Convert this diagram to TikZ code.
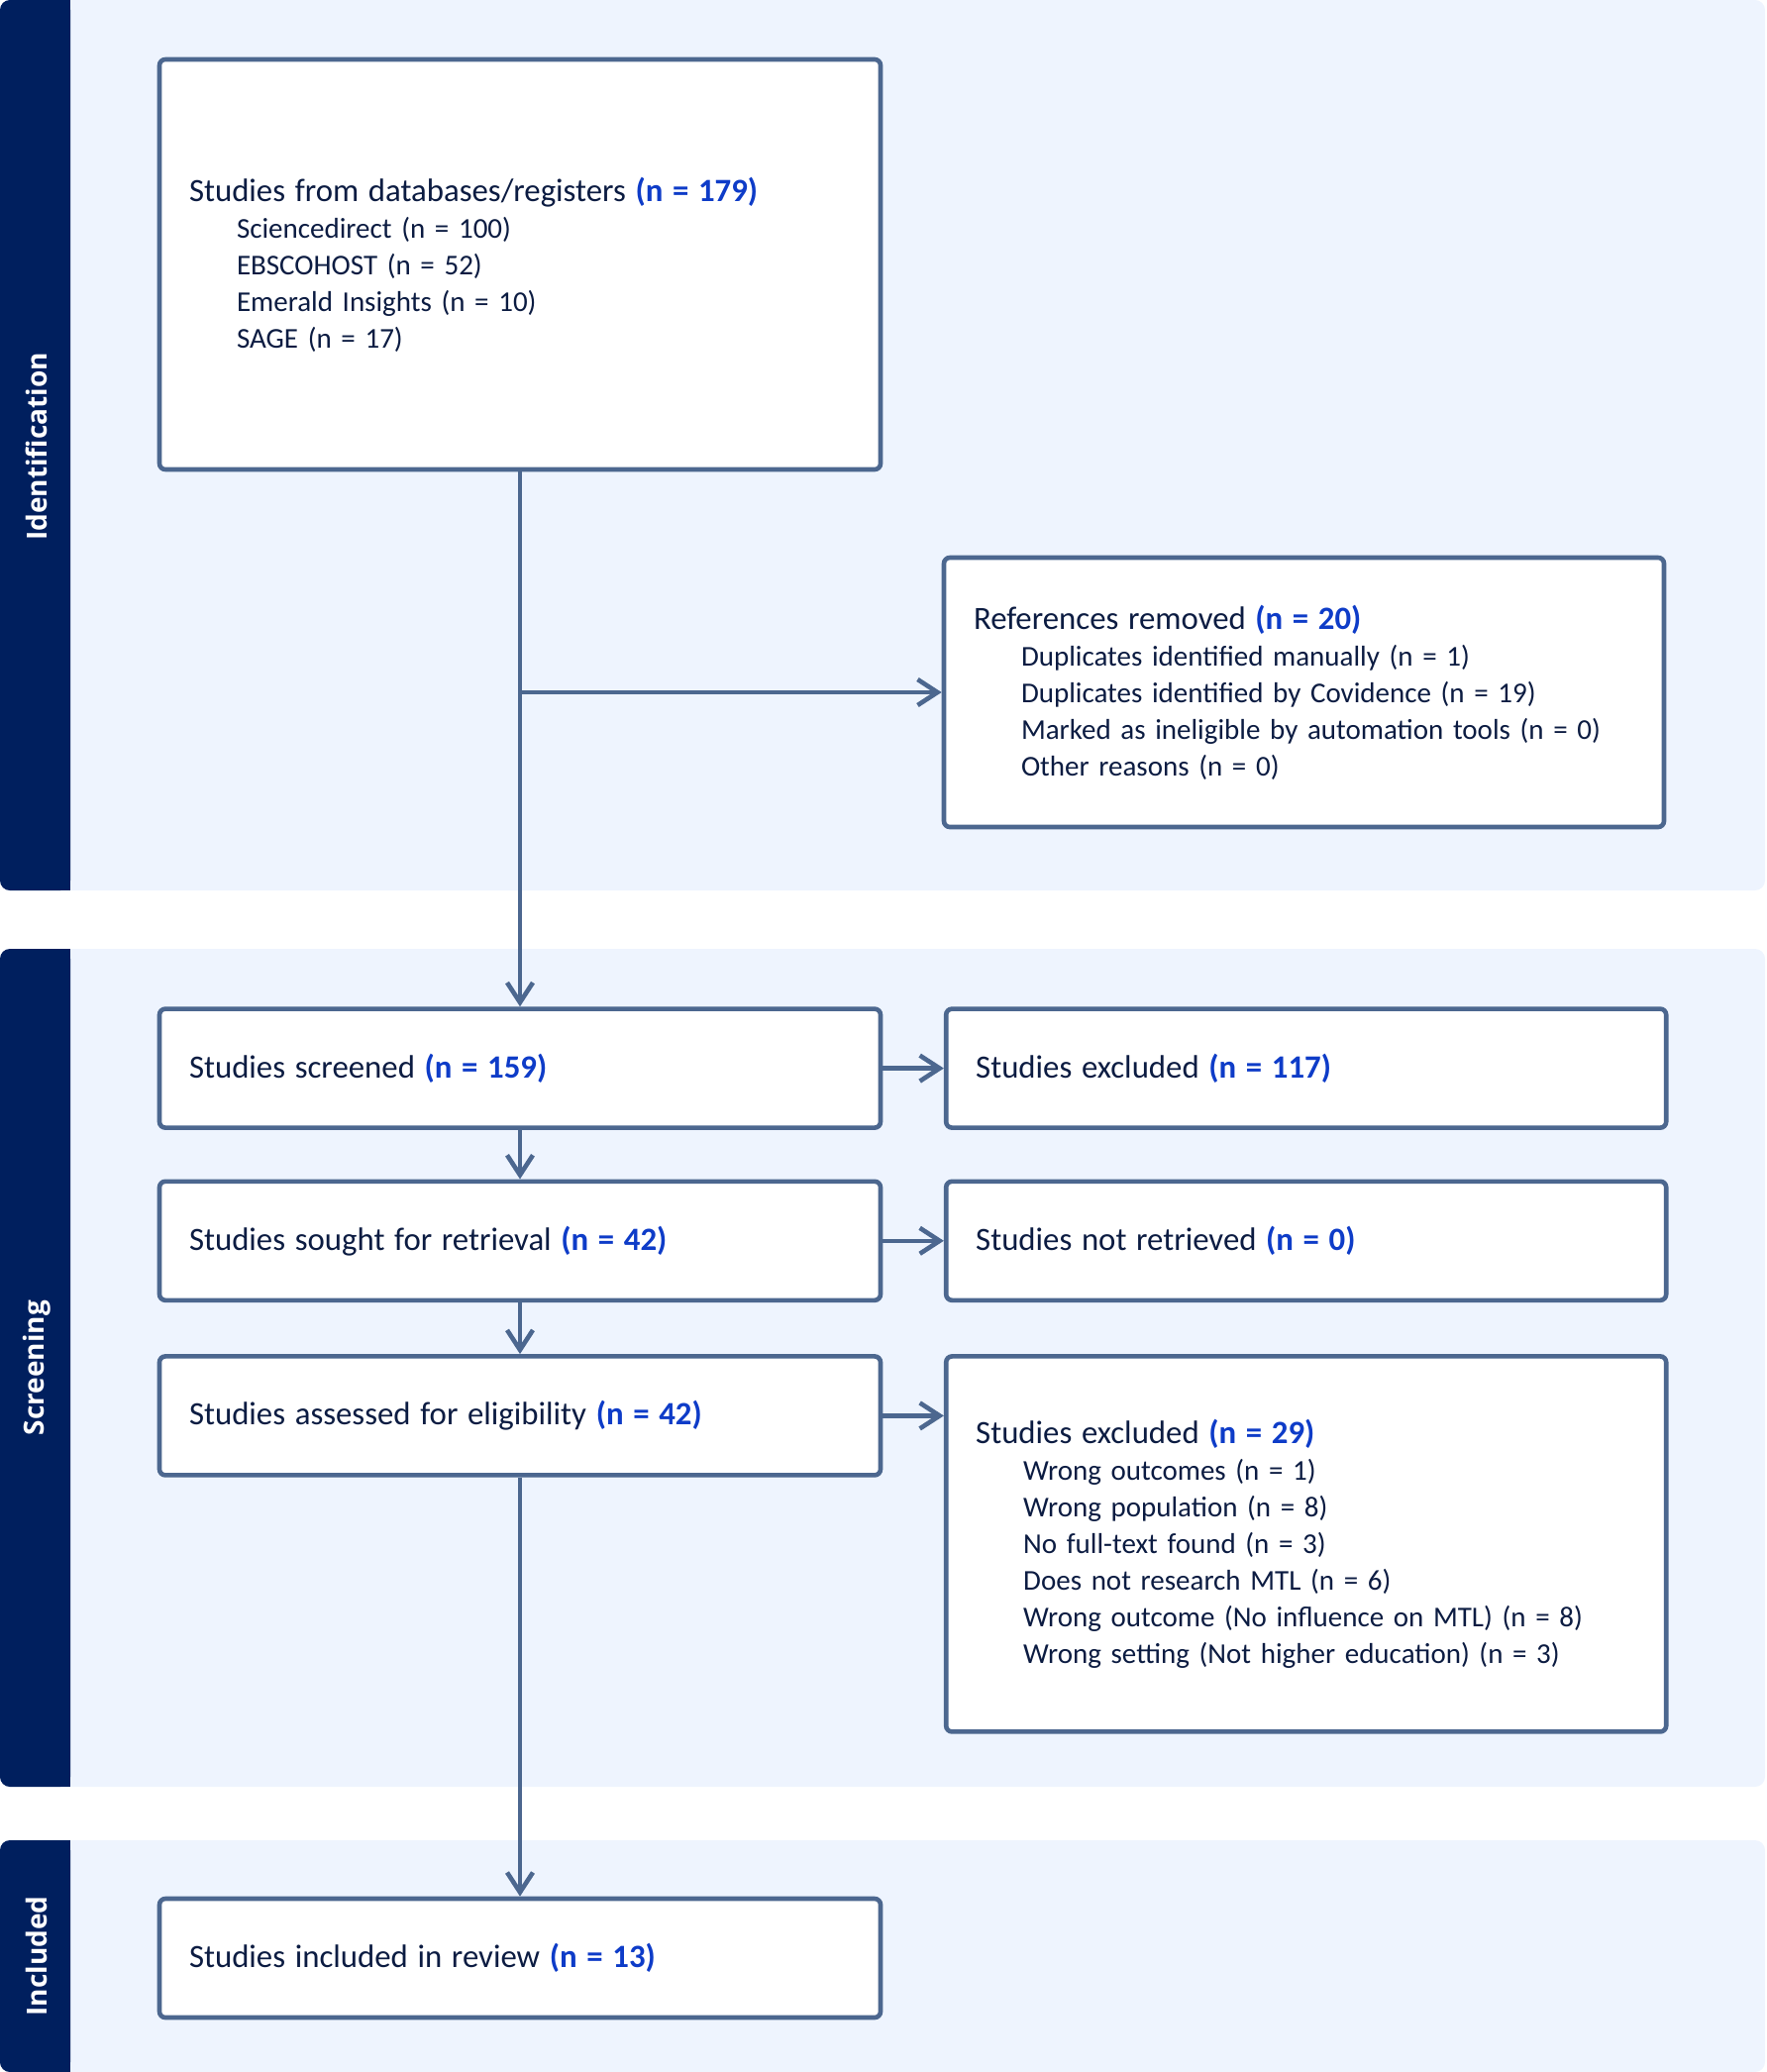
\documentclass[tikz,border=0pt]{standalone}
\usepackage{xcolor}
\usepackage{fontspec}
\setmainfont{Carlito}
\newfontfamily\bandfont{Open Sans}
\usepackage{tikz}
\definecolor{bandnavy}{RGB}{0, 31, 94}
\definecolor{panelblue}{RGB}{238, 244, 254}
\definecolor{edgeslate}{RGB}{76, 103, 143}
\definecolor{countblue}{RGB}{14, 60, 200}
\definecolor{textnavy}{RGB}{12, 28, 66}
\usetikzlibrary{arrows.meta, positioning, calc}

\newcommand{\ncount}[1]{\textbf{\color{countblue}(n = #1)}}
\newcommand{\headline}[1]{{\fontsize{16.4}{18.5}\selectfont #1}}
\newcommand{\srcline}[1]{\hspace*{24pt}#1}

\begin{document}
\begin{tikzpicture}[
    x=0.5pt, y=-0.5pt,
    panel/.style={fill=panelblue, rounded corners=5pt},
    bandbar/.style={fill=bandnavy, rounded corners=5pt},
    bandlabel/.style={rotate=90, text=white, font=\bandfont\bfseries\fontsize{14}{16}\selectfont},
    box/.style={rectangle, draw=edgeslate, fill=white, line width=2.3pt,
                rounded corners=3pt, align=left, inner xsep=15pt,
                text=textnavy, font=\fontsize{14.5}{18.5}\selectfont},
    mainbox/.style={box, text width=334pt, minimum height=60pt},
    sidebox/.style={box, text width=333.5pt, minimum height=60pt},
    arrow/.style={-{Straight Barb[length=10pt, width=13pt, line width=2.3pt]},
                  line width=2.3pt, edgeslate}
]
    \useasboundingbox (0,0) rectangle (1783,2092);

    % phase panels
    \fill[panel] (0,0) rectangle (1782,899);
    \fill[panel] (0,958) rectangle (1782,1804);
    \fill[panel] (0,1858) rectangle (1782,2092);
    \fill[bandbar] (0,0) rectangle (71,899);
    \fill[bandbar] (0,958) rectangle (71,1804);
    \fill[bandbar] (0,1858) rectangle (71,2092);
    \fill[bandnavy] (40,0) rectangle (71,899);
    \fill[bandnavy] (40,958) rectangle (71,1804);
    \fill[bandnavy] (40,1858) rectangle (71,2092);
    \node[bandlabel] (identlbl) at (37,451) {Identification};
    \node[bandlabel] (screenlbl) at (37,1381) {Screening};
    \node[bandlabel] (inclbl) at (37,1975) {Included};

    % boxes
    \node[mainbox, minimum height=207pt] (records) at (525,267) {%
        \headline{Studies from databases/registers \ncount{179}}\\
        \srcline{Sciencedirect (n = 100)}\\
        \srcline{EBSCOHOST (n = 52)}\\
        \srcline{Emerald Insights (n = 10)}\\
        \srcline{SAGE (n = 17)}};
    \node[sidebox, minimum height=136pt] (removed) at (1316.5,699) {%
        \headline{References removed \ncount{20}}\\
        \srcline{Duplicates identified manually (n = 1)}\\
        \srcline{Duplicates identified by Covidence (n = 19)}\\
        \srcline{Marked as ineligible by automation tools (n = 0)}\\
        \srcline{Other reasons (n = 0)}};

    \node[mainbox, below=270pt of records] (screened) {\headline{Studies screened \ncount{159}}};
    \node[mainbox, below=24.8pt of screened] (sought) {\headline{Studies sought for retrieval \ncount{42}}};
    \node[mainbox, below=26pt of sought] (assessed) {\headline{Studies assessed for eligibility \ncount{42}}};
    \node[mainbox, below=211.5pt of assessed] (included) {\headline{Studies included in review \ncount{13}}};

    \node[sidebox, right=30.8pt of screened] (excl) {\headline{Studies excluded \ncount{117}}};
    \node[sidebox, right=30.8pt of sought] (notret) {\headline{Studies not retrieved \ncount{0}}};
    \node[sidebox, minimum height=189.5pt, right=30.8pt of assessed.north east, anchor=north west] (exclfull) {%
        \headline{Studies excluded \ncount{29}}\\
        \srcline{Wrong outcomes (n = 1)}\\
        \srcline{Wrong population (n = 8)}\\
        \srcline{No full-text found (n = 3)}\\
        \srcline{Does not research MTL (n = 6)}\\
        \srcline{Wrong outcome (No influence on MTL) (n = 8)}\\
        \srcline{Wrong setting (Not higher education) (n = 3)}};

    % connectors
    \coordinate (split) at (records.south |- removed.west);
    \draw[arrow] (records) -- (screened);
    \draw[arrow] (split) -- (removed.west);
    \draw[arrow] (screened) -- (sought);
    \draw[arrow] (sought) -- (assessed);
    \draw[arrow] (assessed) -- (included);
    \draw[arrow] (screened) -- (excl);
    \draw[arrow] (sought) -- (notret);
    \draw[arrow] (assessed.east) -- (assessed.east -| exclfull.west);
\end{tikzpicture}
\end{document}
